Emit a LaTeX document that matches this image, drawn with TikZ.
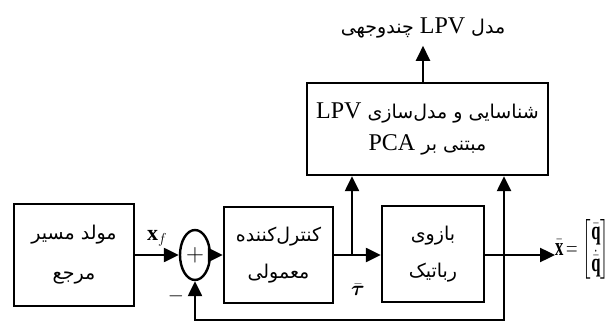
\documentclass[tikz,border=0pt]{standalone}
\usepackage{amsmath}
\usepackage{graphicx}
\usepackage{fontspec}
\setmainfont{Liberation Serif}
\newfontfamily\fa[Script=Arabic]{DejaVu Sans}
\newfontfamily\lat{Liberation Serif}
\TeXXeTstate=1
\usetikzlibrary{arrows.meta,shapes.geometric}
\tikzset{
  blk/.style={draw, line width=2.4pt, align=center, inner sep=0pt},
  arr/.style={line width=2.4pt, -{Triangle[length=15pt,width=14pt]}},
  ln/.style={line width=2.4pt},
  lbl/.style={inner sep=0pt}
}
\newcommand{\LL}[1]{\beginL{\lat\fontsize{24}{24}\selectfont #1}\endL}
\begin{document}
\begin{tikzpicture}[x=1pt,y=-1pt]
\useasboundingbox (0,0) rectangle (615,323);
\node[blk, minimum width=120pt, minimum height=102pt, font=\fa\fontsize{19}{40}\selectfont] (ref) at (74,255)
  {\beginR مولد مسیر\endR\\\beginR مرجع\endR};
\node[draw, ellipse, line width=2.4pt, minimum width=30pt, minimum height=50pt, inner sep=0pt] (sum) at (195,255)
  {\fontsize{24}{24}\selectfont$+$};
\node[blk, minimum width=109pt, minimum height=96pt, font=\fa\fontsize{19}{37}\selectfont] (ctl) at (278.5,255)
  {\beginR کنترل^^^^200cکننده\endR\\\beginR معمولی\endR};
\node[blk, minimum width=102pt, minimum height=96pt, font=\fa\fontsize{19}{37}\selectfont] (rob) at (433,254)
  {\beginR بازوی\endR\\\beginR رباتیک\endR};
\node[blk, minimum width=241pt, minimum height=92pt, font=\fa\fontsize{19}{32}\selectfont] (lpv) at (427.5,129)
  {\beginR شناسایی و مدل^^^^200cسازی \LL{LPV}\endR\\
   \beginR مبتنی بر \LL{PCA}\endR};
\node[lbl, font=\fa\fontsize{19}{20}\selectfont] (top) at (423,28)
  {\beginR مدل \LL{LPV} چندوجهی\endR};
\coordinate (b1) at (352,255);
\coordinate (b2) at (504,255);
\coordinate (out) at (555,255);
\coordinate (fb) at (504,320);
\node[lbl, anchor=west] (xlab) at (555,249)
  {\scalebox{0.64}[1]{\fontsize{26}{28}\selectfont$\bar{\mathbf{x}}\,{=}\,\left[\renewcommand{\arraystretch}{1.15}\begin{array}{@{}c@{}}\bar{\mathbf{q}}\\ \dot{\bar{\mathbf{q}}}\end{array}\right]$}};
\node[lbl] (xf) at (157,238) {\fontsize{22}{22}\selectfont$\mathbf{x}_f$};
\node[lbl] (tau) at (358,290) {\fontsize{22}{22}\selectfont$\bar{\boldsymbol{\tau}}$};
\node[lbl] (minus) at (176,296) {\fontsize{22}{22}\selectfont$-$};
\draw[arr] (ref.east) -- (sum.west);
\draw[arr] (sum.east) -- (ctl.west);
\draw[arr] (ctl.east) -- (rob.west |- b1);
\draw[arr] (b1) -- (b1 |- lpv.south);
\draw[ln] (rob.east |- b2) -- (b2);
\draw[arr] (b2) -- (out);
\draw[arr] (b2) -- (b2 |- lpv.south);
\draw[arr] (lpv.north -| top) -- ++(0,-36);
\draw[arr] (b2) -- (fb) -| (sum.south);
\end{tikzpicture}
\end{document}
